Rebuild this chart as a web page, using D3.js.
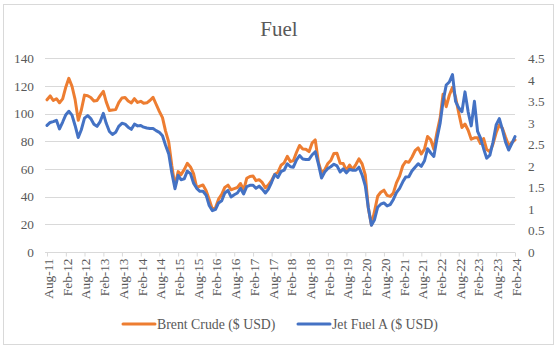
<!DOCTYPE html>
<html><head><meta charset="utf-8">
<script src="https://cdn.jsdelivr.net/npm/d3@7"></script>
<style>
html,body{margin:0;padding:0;background:#fff;}
svg text{font-family:"Liberation Serif","Times New Roman",serif;}
</style></head>
<body><svg id="chart" width="559" height="348"></svg>
<script>
const startMonth = "2011-08";
const brent = [
110.0,112.8,109.5,110.8,107.9,
110.7,119.3,125.5,119.8,110.3,95.2,102.6,113.4,112.9,111.7,109.1,109.5,
113.0,116.1,108.5,102.3,102.6,102.9,107.9,111.3,111.6,109.1,107.8,110.8,
108.1,108.9,107.5,107.8,109.5,111.8,106.8,101.6,97.1,87.4,79.4,62.3,
47.8,58.1,55.9,59.5,64.1,61.5,56.6,46.5,47.6,48.4,44.3,38.0,
30.7,32.2,38.2,41.6,46.7,48.3,45.0,45.8,46.6,49.5,44.7,53.3,
54.6,54.9,51.6,52.3,50.3,46.4,48.5,51.7,56.2,57.5,62.7,64.4,
69.1,65.3,66.0,72.1,77.0,74.4,74.3,72.5,78.9,81.0,64.8,57.4,
59.4,64.0,66.1,71.2,71.3,64.2,63.9,59.0,62.8,59.7,63.2,67.3,
63.7,55.7,32.0,19.5,29.4,40.3,43.2,44.7,40.9,40.2,42.7,50.0,
54.8,62.3,65.4,64.8,68.5,73.2,75.2,70.8,74.5,83.5,81.1,74.2,
86.5,97.1,114.0,105.0,113.3,119.0,111.9,100.5,90.0,92.5,88.0,81.5,
82.5,82.6,78.4,82.0,74.0,72.5,78.0,86.2,92.0,89.5,82.9,77.0,
79.0,81.0
];
const jetFuel = [
2.94,3.01,3.03,3.06,2.86,
3.02,3.19,3.27,3.18,2.94,2.66,2.84,3.11,3.17,3.10,2.97,2.92,
3.03,3.22,2.99,2.80,2.73,2.78,2.92,2.99,2.97,2.90,2.85,2.97,
2.93,2.94,2.90,2.88,2.87,2.87,2.82,2.78,2.70,2.48,2.28,1.84,
1.47,1.78,1.68,1.70,1.88,1.82,1.60,1.48,1.41,1.41,1.32,1.08,
0.96,0.99,1.14,1.19,1.37,1.43,1.28,1.33,1.37,1.48,1.35,1.52,
1.55,1.55,1.48,1.53,1.46,1.37,1.46,1.62,1.80,1.73,1.87,1.90,
2.05,1.98,1.97,2.14,2.24,2.16,2.15,2.15,2.26,2.33,2.04,1.72,
1.86,1.94,1.98,2.04,2.00,1.86,1.93,1.84,1.92,1.90,1.90,1.97,
1.79,1.54,1.04,0.62,0.75,1.04,1.11,1.14,1.07,1.10,1.22,1.38,
1.48,1.63,1.74,1.75,1.88,1.97,2.05,1.99,2.12,2.40,2.30,2.22,
2.64,3.00,3.50,3.88,3.95,4.12,3.50,3.35,3.26,3.72,3.25,2.93,
3.50,2.80,2.65,2.40,2.18,2.25,2.55,2.95,3.10,2.85,2.55,2.37,
2.52,2.68
];
const leftTicks = [0,20,40,60,80,100,120,140];
const rightTicks = [0,0.5,1,1.5,2,2.5,3,3.5,4,4.5];
const seriesNames = ["Brent Crude ($ USD)","Jet Fuel A ($ USD)"];
const seriesColors = ["#ED7D31","#4472C4"];
const titleText = "Fuel";

const parse = d3.timeParse("%Y-%m");
const t0 = parse(startMonth);
const dates = brent.map((_, i) => d3.timeMonth.offset(t0, i));
const tickDates = d3.range(0, brent.length, 6).map(i => dates[i]);

const svg = d3.select("#chart");
const W = 559, H = 348;
const plotL = 45, plotR = 515, plotT = 58.3, plotB = 252;

svg.append("rect").attr("x", 3.5).attr("y", 4.5).attr("width", 550).attr("height", 340)
  .attr("fill", "#fff").attr("stroke", "#D9D9D9").attr("stroke-width", 1);

const x = d3.scaleTime().domain([dates[0], dates[dates.length - 1]]).range([47, 515]);
const yL = d3.scaleLinear().domain([0, 140]).range([plotB, plotT]);
const yR = d3.scaleLinear().domain([0, 4.5]).range([plotB, plotT]);

// gridlines
svg.append("g").selectAll("line").data(leftTicks.slice(1)).join("line")
  .attr("x1", plotL).attr("x2", plotR)
  .attr("y1", d => Math.round(yL(d)) + 0.5).attr("y2", d => Math.round(yL(d)) + 0.5)
  .attr("stroke", "#D9D9D9").attr("stroke-width", 1);

// left axis labels
const gl = svg.append("g").attr("transform", `translate(${plotL},0)`)
  .call(d3.axisLeft(yL).tickValues(leftTicks).tickSize(0).tickPadding(11).tickFormat(d3.format("d")));
gl.select(".domain").remove();
gl.selectAll("text").attr("fill", "#595959").style("font-size", "13.3px").style("font-family", "Liberation Serif");

// right axis labels
const gr = svg.append("g").attr("transform", `translate(${plotR},0)`)
  .call(d3.axisRight(yR).tickValues(rightTicks).tickSize(0).tickPadding(13).tickFormat(d => String(d)));
gr.select(".domain").remove();
gr.selectAll("text").attr("fill", "#595959").style("font-size", "13.3px").style("font-family", "Liberation Serif");

// x axis
const gx = svg.append("g").attr("transform", `translate(0,${Math.round(plotB) + 0.5})`)
  .call(d3.axisBottom(x).tickValues(tickDates).tickSize(4).tickSizeOuter(0).tickFormat(d3.timeFormat("%b-%y")));
gx.select(".domain").attr("d", `M${plotL},0H${plotR}`).attr("stroke", "#D9D9D9");
gx.selectAll(".tick line").attr("stroke", "#D9D9D9");
gx.selectAll("text")
  .attr("fill", "#595959").style("font-size", "13.3px").style("font-family", "Liberation Serif")
  .attr("text-anchor", "end").attr("transform", "rotate(-90)")
  .attr("x", -6).attr("y", 0).attr("dy", "0.33em").attr("dx", 0);
gx.selectAll(".tick text").each(function() {
  d3.select(this).attr("transform", "translate(1,0) rotate(-90)");
});

// lines
const lineL = d3.line().x((d, i) => x(dates[i])).y(d => yL(d)).curve(d3.curveLinear);
const lineR = d3.line().x((d, i) => x(dates[i])).y(d => yR(d)).curve(d3.curveLinear);
svg.append("path").datum(brent).attr("d", lineL).attr("fill", "none")
  .attr("stroke", seriesColors[0]).attr("stroke-width", 3).attr("stroke-linejoin", "round").attr("stroke-linecap", "round");
svg.append("path").datum(jetFuel).attr("d", lineR).attr("fill", "none")
  .attr("stroke", seriesColors[1]).attr("stroke-width", 3).attr("stroke-linejoin", "round").attr("stroke-linecap", "round");

// title
svg.append("text").attr("x", 279).attr("y", 36).attr("text-anchor", "middle")
  .attr("fill", "#595959").style("font-size", "21px").text(titleText);

// legend
const legendItems = [{x: 123}, {x: 298}];
const lg = svg.append("g");
legendItems.forEach((it, i) => {
  lg.append("line").attr("x1", it.x).attr("x2", it.x + 32).attr("y1", 324).attr("y2", 324)
    .attr("stroke", seriesColors[i]).attr("stroke-width", 3).attr("stroke-linecap", "round");
  lg.append("text").attr("x", it.x + 34).attr("y", 328.5).attr("fill", "#595959")
    .style("font-size", "13.8px").text(seriesNames[i]);
});
</script></body></html>
